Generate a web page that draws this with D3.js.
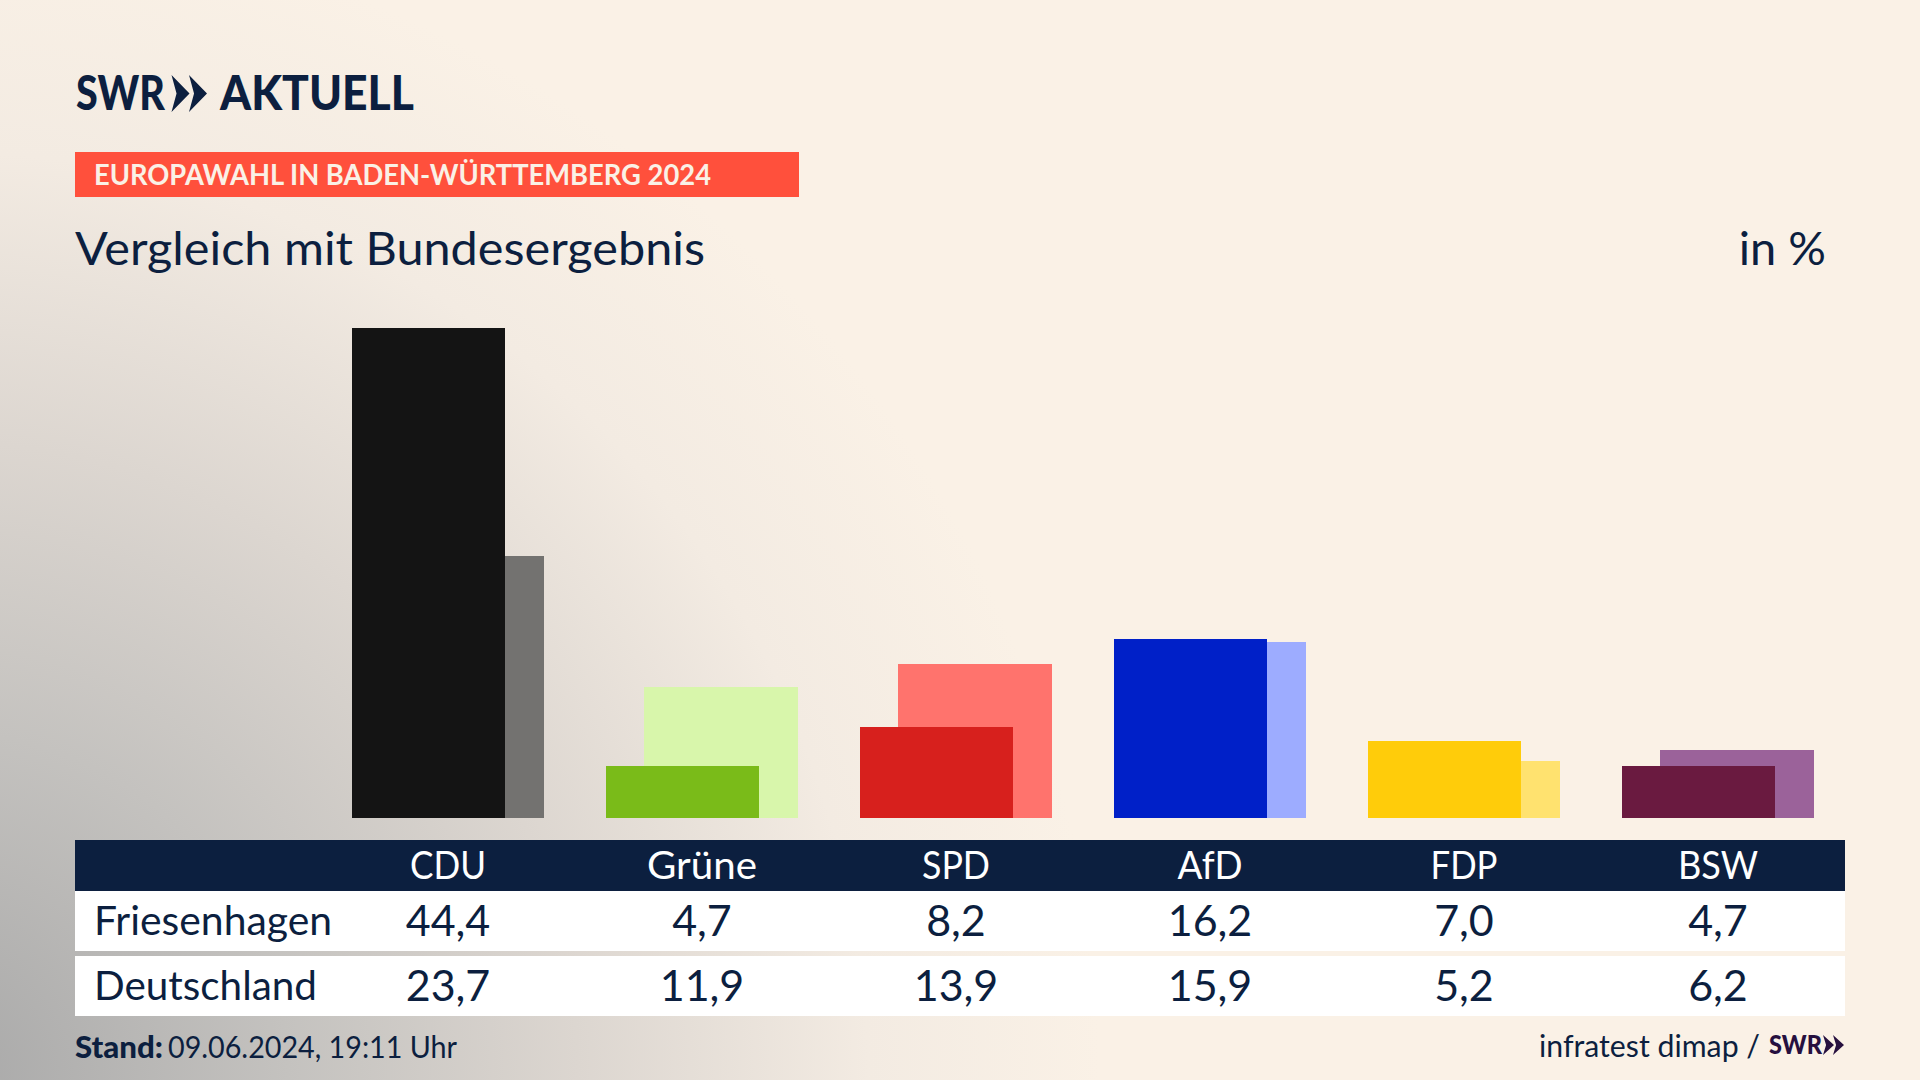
<!DOCTYPE html>
<html lang="de"><head><meta charset="utf-8">
<script src="https://cdn.jsdelivr.net/npm/d3@7"></script>
<style>
html,body{margin:0;padding:0;background:#faf1e6}
svg{display:block}
text{font-family:Lato,"Noto Sans",sans-serif;fill:#0c1f3f}
</style></head><body>
<div id="chart"></div>
<script>
const parties = ["CDU","Grüne","SPD","AfD","FDP","BSW"];
const friesenhagen = [44.4,4.7,8.2,16.2,7.0,4.7];
const deutschland = [23.7,11.9,13.9,15.9,5.2,6.2];
const frontColors = ["#141414","#7abb19","#d7201d","#0020c8","#ffcc0a","#6a1a40"];
const backColors = ["#737270","#d8f6ab","#ff736d","#9dacff","#ffe26f","#9b629a"];
const rowNames = ["Friesenhagen","Deutschland"];
const headerWidths = [76,110,68,65,67,80];
const rowNameWidths = [238,223];

const W=1920,H=1080;
const fmt = v => v.toFixed(1).replace(".",",");
const navy="#0c1f3f";
const svg=d3.select("#chart").append("svg").attr("width",W).attr("height",H);
const defs=svg.append("defs");
const grad=defs.append("radialGradient").attr("id","bg").attr("gradientUnits","userSpaceOnUse")
  .attr("cx",-60).attr("cy",1080).attr("r",1160);
[[0,"#a8a8a8"],[0.3,"#c4c2bf"],[0.55,"#dcd6d0"],[0.8,"#f3ebe2"],[1,"#faf1e6"]]
  .forEach(([o,c])=>grad.append("stop").attr("offset",o).attr("stop-color",c));
svg.append("rect").attr("width",W).attr("height",H).attr("fill","#faf1e6");
svg.append("rect").attr("width",W).attr("height",H).attr("fill","url(#bg)");
const fit=(sel,w)=>sel.attr("textLength",w).attr("lengthAdjust","spacingAndGlyphs");

// header
fit(svg.append("text").attr("x",76).attr("y",110).attr("font-size",48).attr("font-weight",900),89).text("SWR");
const chev=(x,y,w,h)=>`M${x},${y}L${x+w},${y+h/2}L${x},${y+h}L${x+w*.28},${y+h/2}Z`;
svg.append("path").attr("fill",navy).attr("d",chev(171.5,75,18,37)+chev(189,75,18,37));
fit(svg.append("text").attr("x",220).attr("y",110).attr("font-size",48).attr("font-weight",900),194).text("AKTUELL");
svg.append("rect").attr("x",75).attr("y",152).attr("width",724).attr("height",45).attr("fill","#ff503c");
fit(svg.append("text").attr("x",94).attr("y",185).attr("font-size",29).attr("font-weight",700).style("fill","#faf1e6"),617).text("EUROPAWAHL IN BADEN-WÜRTTEMBERG 2024");
fit(svg.append("text").attr("x",75).attr("y",265).attr("font-size",47),630).text("Vergleich mit Bundesergebnis");
svg.append("text").attr("x",1826).attr("y",265).attr("font-size",47).attr("text-anchor","end").text("in %");

// scales
const x=d3.scaleBand().domain(parties).range([321,1845]).padding(0);
const y=d3.scaleLinear().domain([0,44.4]).range([818,327.6]);
const barW=153, barOff=38, groupW=192;
const gx=p=>x(p)+(x.step()-groupW)/2;

svg.append("g").attr("shape-rendering","crispEdges").selectAll("rect").data(parties).join("rect")
  .attr("x",p=>gx(p)+barOff).attr("width",barW+1)
  .attr("y",(p,i)=>y(deutschland[i])).attr("height",(p,i)=>y(0)-y(deutschland[i]))
  .attr("fill",(p,i)=>backColors[i]);
svg.append("g").attr("shape-rendering","crispEdges").selectAll("rect").data(parties).join("rect")
  .attr("x",p=>gx(p)).attr("width",barW)
  .attr("y",(p,i)=>y(friesenhagen[i])).attr("height",(p,i)=>y(0)-y(friesenhagen[i]))
  .attr("fill",(p,i)=>frontColors[i]);

// table
svg.append("rect").attr("x",75).attr("y",840).attr("width",1770).attr("height",51).attr("fill",navy);
svg.append("rect").attr("x",75).attr("y",891).attr("width",1770).attr("height",60).attr("fill","#fff");
svg.append("rect").attr("x",75).attr("y",956).attr("width",1770).attr("height",60).attr("fill","#fff");
const cx=p=>x(p)+x.step()/2;
svg.append("g").selectAll("text").data(parties).join("text")
  .attr("x",cx).attr("y",879).attr("text-anchor","middle").attr("font-size",39)
  .attr("textLength",(d,i)=>headerWidths[i]).attr("lengthAdjust","spacingAndGlyphs")
  .style("fill","#fff").text(d=>d);
[[0,friesenhagen,936],[1,deutschland,1001]].forEach(([r,vals,ty])=>{
  fit(svg.append("text").attr("x",94).attr("y",ty-1).attr("font-size",40),rowNameWidths[r]).text(rowNames[r]);
  svg.append("g").selectAll("text").data(vals).join("text")
    .attr("x",(v,i)=>cx(parties[i])).attr("y",ty).attr("text-anchor","middle")
    .attr("font-size",43).text(fmt);
});

// footer
fit(svg.append("text").attr("x",75).attr("y",1058).attr("font-size",30).attr("font-weight",900),88).text("Stand:");
fit(svg.append("text").attr("x",168).attr("y",1058).attr("font-size",30),289).text("09.06.2024, 19:11 Uhr");
fit(svg.append("text").attr("x",1539).attr("y",1057).attr("font-size",30),221).text("infratest dimap /");
fit(svg.append("text").attr("x",1769).attr("y",1054).attr("font-size",27).attr("font-weight",900).style("fill","#26103f"),53).text("SWR");
svg.append("path").attr("fill","#26103f").attr("d",chev(1823,1035,11,20)+chev(1833,1035,11,20));
</script></body></html>
